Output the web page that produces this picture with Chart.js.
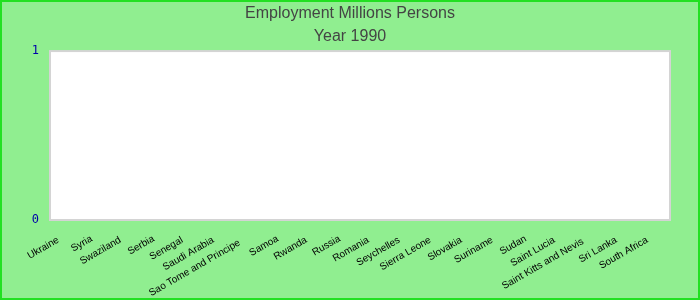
<!DOCTYPE html>
<html>
<head>
<meta charset="utf-8">
<script src="https://cdn.jsdelivr.net/npm/chart.js@4/dist/chart.umd.min.js"></script>
<style>
  html, body { margin: 0; padding: 0; background: #90EE90; }
  #wrap { width: 700px; height: 300px; position: relative; }
</style>
</head>
<body>
<div id="wrap"><canvas id="c" width="700" height="300"></canvas></div>
<script>
const categories = ["Ukraine", "Syria", "Swaziland", "Serbia", "Senegal", "Saudi Arabia",
  "Sao Tome and Principe", "Samoa", "Rwanda", "Russia", "Romania", "Seychelles",
  "Sierra Leone", "Slovakia", "Suriname", "Sudan", "Saint Lucia",
  "Saint Kitts and Nevis", "Sri Lanka", "South Africa"];
const employment = [0, 0, 0, 0, 0, 0, 0, 0, 0, 0, 0, 0, 0, 0, 0, 0, 0, 0, 0, 0];
const yTicks = [0, 1];
const titleLines = ["Employment Millions Persons", "Year 1990"];

const LABEL_FONT = '10px "Liberation Sans", Arial, sans-serif';
const measureCtx = document.createElement('canvas').getContext('2d');
measureCtx.font = LABEL_FONT;
const SPACE_W = measureCtx.measureText(' ').width;
function padLabel(s) {
  const w = measureCtx.measureText(s).width;
  const n = Math.max(0, Math.round((4 + 0.09 * w) / SPACE_W));
  return s + ' '.repeat(n);
}

const bgPlugin = {
  id: 'bg',
  beforeDraw(chart) {
    const ctx = chart.ctx, a = chart.chartArea;
    ctx.save();
    ctx.fillStyle = '#90EE90';
    ctx.fillRect(0, 0, chart.width, chart.height);
    ctx.fillStyle = '#ffffff';
    ctx.fillRect(a.left, a.top, a.right - a.left, a.bottom - a.top);
    ctx.strokeStyle = '#d4d4d4';
    ctx.lineWidth = 2;
    ctx.strokeRect(a.left, a.top, a.right - a.left, a.bottom - a.top);
    ctx.restore();
  },
  afterDraw(chart) {
    const ctx = chart.ctx;
    ctx.save();
    ctx.strokeStyle = '#22e022';
    ctx.lineWidth = 2;
    ctx.strokeRect(1, 1, chart.width - 2, chart.height - 2);
    ctx.restore();
  }
};

new Chart(document.getElementById('c'), {
  type: 'bar',
  data: {
    labels: categories,
    datasets: [{ label: 'Employment', data: employment, backgroundColor: '#4472c4' }]
  },
  plugins: [bgPlugin],
  options: {
    responsive: false,
    animation: false,
    layout: { padding: { left: 0, right: 0, top: 2, bottom: 0 } },
    plugins: {
      legend: { display: false },
      tooltip: { enabled: false },
      title: {
        display: true,
        text: titleLines,
        color: '#444444',
        font: { family: 'Liberation Sans, Arial, sans-serif', size: 16, weight: 'normal', lineHeight: 1.44 },
        padding: { top: 0, bottom: 3 }
      }
    },
    scales: {
      x: {
        grid: { display: false },
        border: { display: false },
        ticks: {
          autoSkip: false,
          minRotation: 30,
          maxRotation: 30,
          padding: 2,
          color: '#000000',
          font: { family: 'Liberation Sans, Arial, sans-serif', size: 10 },
          callback(value) { return padLabel(this.getLabelForValue(value)); }
        },
        afterFit(scale) { scale.height = 80; }
      },
      y: {
        min: 0,
        max: 1,
        grid: { display: false, drawTicks: false },
        border: { display: false },
        afterBuildTicks(scale) { scale.ticks = yTicks.map(v => ({ value: v })); },
        ticks: {
          color: '#0000aa',
          padding: 11,
          font: { family: 'DejaVu Sans Mono, monospace', size: 12 }
        },
        afterFit(scale) { scale.width = 50; }
      },
      yRight: {
        type: 'linear',
        position: 'right',
        display: true,
        grid: { display: false, drawTicks: false },
        border: { display: false },
        ticks: { display: false },
        afterFit(scale) { scale.width = 30; }
      }
    }
  }
});
</script>
</body>
</html>
